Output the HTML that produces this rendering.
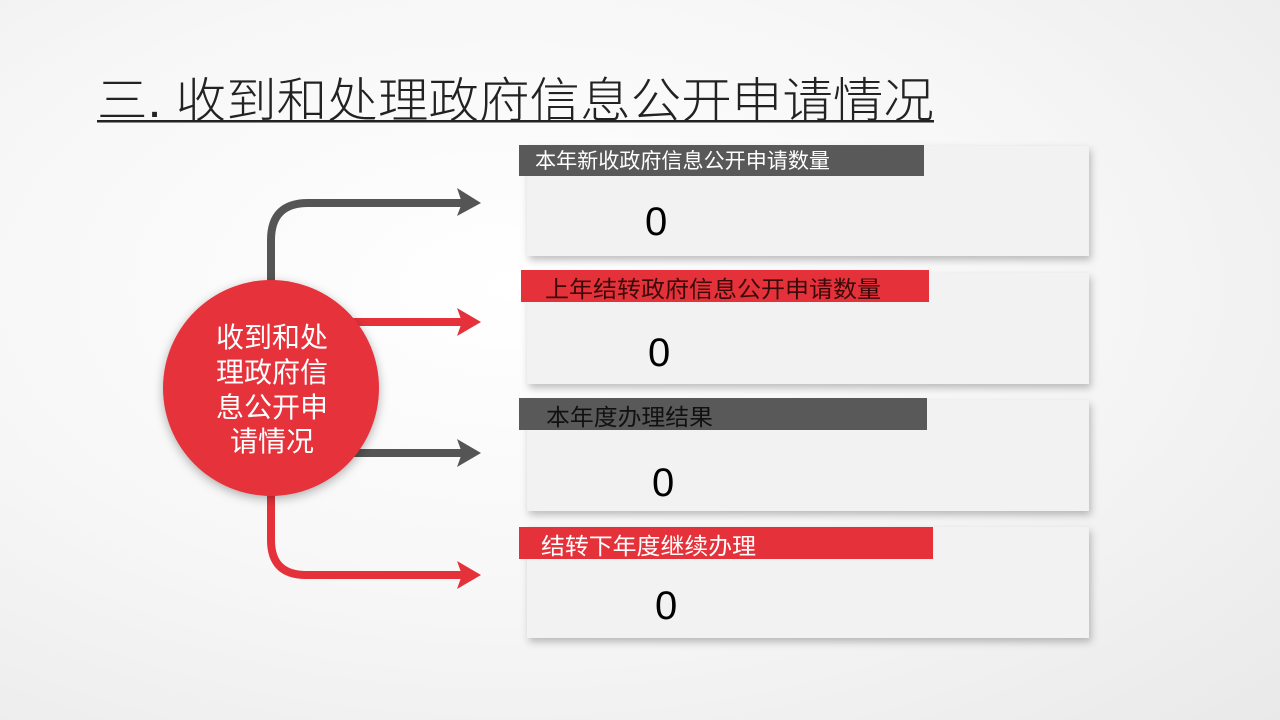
<!DOCTYPE html>
<html><head><meta charset="utf-8"><style>
html,body{margin:0;padding:0;}
body{width:1280px;height:720px;overflow:hidden;background:radial-gradient(ellipse at 40% 40%,#ffffff 0%,#f7f7f7 50%,#e9e9e9 100%);}
svg{position:absolute;left:0;top:0;}
text{font-family:"Liberation Sans","Noto Sans CJK SC",sans-serif;}
</style></head><body>
<svg width="1280" height="720" viewBox="0 0 1280 720">
<defs>
<filter id="sh" x="-10%" y="-20%" width="120%" height="150%"><feDropShadow dx="2" dy="4" stdDeviation="4" flood-color="#000" flood-opacity="0.25"/></filter>
<filter id="sh2" x="-20%" y="-20%" width="140%" height="140%"><feDropShadow dx="0" dy="3" stdDeviation="5" flood-color="#000" flood-opacity="0.3"/></filter>
</defs>
<text x="97" y="117" font-size="48" fill="#222" font-weight="300" textLength="837" lengthAdjust="spacingAndGlyphs" font-family="'Noto Serif CJK SC',serif">三. 收到和处理政府信息公开申请情况</text>
<rect x="97" y="120" width="837" height="2.5" fill="#222"/>

<rect x="527" y="146" width="562" height="110" fill="#f2f2f2" filter="url(#sh)"/>
<rect x="527" y="273" width="562" height="111" fill="#f2f2f2" filter="url(#sh)"/>
<rect x="527" y="400" width="562" height="111" fill="#f2f2f2" filter="url(#sh)"/>
<rect x="527" y="527" width="562" height="111" fill="#f2f2f2" filter="url(#sh)"/>

<rect x="519" y="145" width="405" height="31" fill="#595959"/>
<text x="535" y="168" font-size="21" fill="#fff" textLength="295" lengthAdjust="spacingAndGlyphs">本年新收政府信息公开申请数量</text>
<rect x="521" y="270" width="408" height="32" fill="#e5323a"/>
<text x="545" y="297" font-size="23" fill="#3a0a0a" textLength="336" lengthAdjust="spacingAndGlyphs">上年结转政府信息公开申请数量</text>
<rect x="519" y="398" width="408" height="32" fill="#595959"/>
<text x="546" y="425" font-size="23" fill="#111" textLength="167" lengthAdjust="spacingAndGlyphs">本年度办理结果</text>
<rect x="519" y="527" width="414" height="32" fill="#e5323a"/>
<text x="541" y="554" font-size="23" fill="#fff" textLength="215" lengthAdjust="spacingAndGlyphs">结转下年度继续办理</text>

<text x="645" y="235" font-size="40" fill="#000">0</text>
<text x="648" y="366" font-size="40" fill="#000">0</text>
<text x="652" y="496" font-size="40" fill="#000">0</text>
<text x="655" y="619" font-size="40" fill="#000">0</text>

<g fill="none" stroke-width="8">
<path d="M271 290 V240 Q271 203 308 203 H462" stroke="#555"/>
<path d="M340 322 H462" stroke="#e5323a"/>
<path d="M340 453 H462" stroke="#555"/>
<path d="M271 480 V540 Q271 575 306 575 H462" stroke="#e5323a"/>
</g>
<polygon points="457,188 481,203 457,216 462,203" fill="#555"/>
<polygon points="457,308 481,322 457,336 462,322" fill="#e5323a"/>
<polygon points="457,439 481,453 457,467 462,453" fill="#555"/>
<polygon points="457,561 481,575 457,589 462,575" fill="#e5323a"/>

<circle cx="271" cy="388" r="108" fill="#e5323a" filter="url(#sh2)"/>
<g font-size="28" fill="#fff" text-anchor="middle" font-family="'Noto Serif CJK SC',serif">
<text x="272" y="347">收到和处</text>
<text x="272" y="382">理政府信</text>
<text x="272" y="417">息公开申</text>
<text x="272" y="451">请情况</text>
</g>
</svg>
</body></html>
